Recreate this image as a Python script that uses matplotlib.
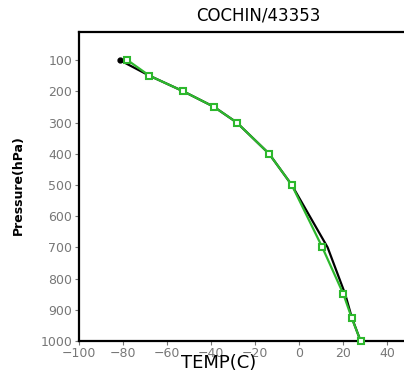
import matplotlib
matplotlib.use("Agg")
import matplotlib.pyplot as plt

title = "COCHIN/43353"
pressure = [100, 150, 200, 250, 300, 400, 500, 700, 850, 925, 1000]
temp_black = [-81.5, -68, -52.6, -38.6, -28.3, -13.6, -3.3, 13.0, 21.0, 24.0, 28.0]
temp_green = [-78, -68, -52.6, -38.6, -28.3, -13.6, -3.3, 10.6, 20.2, 23.9, 28.0]
xticks = [-100, -80, -60, -40, -20, 0, 20, 40]
yticks = [100, 200, 300, 400, 500, 600, 700, 800, 900, 1000]

fig = plt.figure(figsize=(4.04, 3.79), dpi=100)
ax = fig.add_axes([79/404, (379-341)/379, (409-79)/404, (341-32)/379])

ax.plot(temp_black, pressure, color="black", lw=1.6, zorder=2)
ax.plot(temp_black[0], pressure[0], "o", color="black", ms=3.5, zorder=2)
ax.plot(temp_green, pressure, color="#2db82d", lw=1.6, marker="s", ms=5,
        mfc="white", mec="#2db82d", mew=1.5, zorder=3, clip_on=False)

ax.set_xlim(-100, 50)
ax.set_ylim(1000, 10)
ax.set_xticks(xticks)
ax.set_yticks(yticks)
ax.set_xticklabels([f"\u2212{abs(v)}" if v < 0 else str(v) for v in xticks])
ax.tick_params(axis="both", colors="#777777", labelsize=9, length=3, width=0.8,
               direction="out", pad=2)
ax.tick_params(axis="x", pad=1)
for side in ["left", "bottom", "top"]:
    ax.spines[side].set_linewidth(1.6)
    ax.spines[side].set_color("black")
ax.spines["right"].set_visible(False)

fig.text(258/404, 1 - 16/379, title, ha="center", va="center", fontsize=12, color="black")
fig.text(219/404, 1 - 363/379, "TEMP(C)", ha="center", va="center", fontsize=13, color="black")
fig.text(18/404, 1 - 185/379, "Pressure(hPa)", ha="center", va="center", rotation=90,
         fontsize=9, fontweight="bold", family="Liberation Sans Narrow", color="black")

fig.savefig("out.png", dpi=100)
